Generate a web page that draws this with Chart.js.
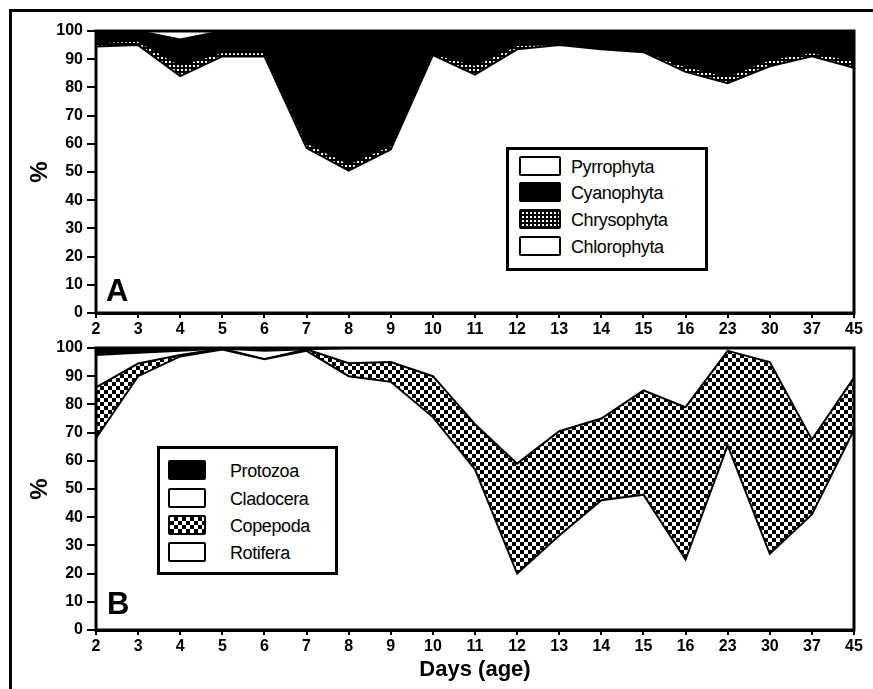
<!DOCTYPE html>
<html>
<head>
<meta charset="utf-8">
<script src="https://cdn.jsdelivr.net/npm/chart.js@4.4.1/dist/chart.umd.min.js"></script>
<style>
    body { margin: 0; background: #fff; width: 873px; height: 689px; overflow: hidden; position: relative; font-family: "Liberation Sans", Arial, sans-serif; }
    .frame { position: absolute; left: 9px; top: 9px; width: 900px; height: 700px; border-left: 3px solid #000; border-top: 3px solid #000; }
    canvas { position: absolute; left: 0; }
    #chA { top: 0; }
    #chB { top: 330px; }
    .legend { position: absolute; border: 3px solid #000; background: #fff; box-sizing: border-box; }
    .item { position: absolute; height: 22px; font-size: 18px; line-height: 22px; letter-spacing: -0.4px; }
    .sw { position: absolute; top: 0; width: 38px; height: 20px; border: 2px solid #000; border-radius: 2px; box-sizing: border-box; }
    .panel { position: absolute; font: bold 31px "Liberation Sans", Arial, sans-serif; }
</style>
</head>
<body>
<div class="frame"></div>
<canvas id="chA" width="873" height="345"></canvas>
<canvas id="chB" width="873" height="359"></canvas>

<div class="legend" style="left:506px; top:147px; width:202px; height:124px;">
    <div class="item" style="top:6px; left:10px;"><div class="sw" style="width:42px; background:#fff;"></div><span style="position:absolute; left:52px; white-space:nowrap;">Pyrrophyta</span></div>
    <div class="item" style="top:32px; left:10px;"><div class="sw" style="width:42px; background:#000;"></div><span style="position:absolute; left:52px; white-space:nowrap;">Cyanophyta</span></div>
    <div class="item" style="top:59px; left:10px;"><div class="sw" id="swChrys" style="width:42px;"></div><span style="position:absolute; left:52px; white-space:nowrap;">Chrysophyta</span></div>
    <div class="item" style="top:86px; left:10px;"><div class="sw" style="width:42px; background:#fff;"></div><span style="position:absolute; left:52px; white-space:nowrap;">Chlorophyta</span></div>
</div>

<div class="legend" style="left:157px; top:446px; width:181px; height:129px;">
    <div class="item" style="top:11px; left:8px;"><div class="sw" style="background:#000;"></div><span style="position:absolute; left:62px; white-space:nowrap;">Protozoa</span></div>
    <div class="item" style="top:39px; left:8px;"><div class="sw" style="background:#fff;"></div><span style="position:absolute; left:62px; white-space:nowrap;">Cladocera</span></div>
    <div class="item" style="top:66px; left:8px;"><div class="sw" id="swCope"></div><span style="position:absolute; left:62px; white-space:nowrap;">Copepoda</span></div>
    <div class="item" style="top:93px; left:8px;"><div class="sw" style="background:#fff;"></div><span style="position:absolute; left:62px; white-space:nowrap;">Rotifera</span></div>
</div>

<div class="panel" style="left:106px; top:273px;">A</div>
<div class="panel" style="left:107px; top:586px;">B</div>

<script>
// x categories (days of age)
const days = ['2', '3', '4', '5', '6', '7', '8', '9', '10', '11', '12', '13', '14', '15', '16', '23', '30', '37', '45'];

// panel A - phytoplankton (%), bottom to top
const chlorophyta = [94.5, 95, 84, 91, 91, 58.5, 50.5, 58, 91.5, 84.5, 93.5, 95, 93.5, 92.5, 85.5, 81.5, 87.5, 91, 87];
const chrysophyta = [1.5, 1.5, 4, 1.5, 1.5, 2, 2.5, 1.5, 0.5, 3.5, 1.5, 0.3, 0.3, 0.3, 2, 2.5, 2.5, 1.5, 2.5];
const cyanophyta = [4, 3.5, 9, 7.5, 7.5, 39.5, 47, 40.5, 8, 12, 5, 4.7, 6.2, 7.2, 12.5, 16, 10, 7.5, 10.5];
const pyrrophyta = [0, 0, 3, 0, 0, 0, 0, 0, 0, 0, 0, 0, 0, 0, 0, 0, 0, 0, 0];

// panel B - zooplankton (%), bottom to top
const rotifera = [68, 90, 97, 99.5, 96, 99, 90, 88, 75.5, 57, 20, 33.5, 46, 48, 25, 65.5, 27, 41, 71];
const copepoda = [18, 4.5, 0.5, 0.3, 0, 0.5, 4.6, 7, 14.5, 16, 39, 37, 29, 37, 54, 33.5, 68, 26.5, 18.5];
const cladocera = [11.5, 3.8, 1.5, 0, 3, 0.1, 5.4, 5, 10, 27, 41, 29.5, 25, 15, 21, 1, 5, 32.5, 10.5];
const protozoa = [2.5, 1.7, 1, 0.2, 1, 0.4, 0, 0, 0, 0, 0, 0, 0, 0, 0, 0, 0, 0, 0];

const yTicks = [0, 10, 20, 30, 40, 50, 60, 70, 80, 90, 100];

function makePattern(size, draw) {
    let c = document.createElement('canvas');
    c.width = size;
    c.height = size;
    let g = c.getContext('2d');
    draw(g);
    return c;
}

// small white dots on black (Chrysophyta)
let dotsCanvas = makePattern(4, function (g) {
    g.fillStyle = '#000';
    g.fillRect(0, 0, 4, 4);
    g.fillStyle = '#fff';
    g.fillRect(1, 1, 2, 2);
});
// checkerboard (Copepoda)
let checkCanvas = makePattern(8, function (g) {
    g.fillStyle = '#000';
    g.fillRect(0, 0, 8, 8);
    g.fillStyle = '#fff';
    g.fillRect(0, 0, 4, 4);
    g.fillRect(4, 4, 4, 4);
});

document.getElementById('swChrys').style.background = 'url(' + dotsCanvas.toDataURL() + ')';
document.getElementById('swCope').style.background = 'url(' + checkCanvas.toDataURL() + ')';

const tmp = document.createElement('canvas').getContext('2d');
const dotsPattern = tmp.createPattern(dotsCanvas, 'repeat');
const checkPattern = tmp.createPattern(checkCanvas, 'repeat');

// box round the plot area, drawn over the fills
const framePlugin = {
    id: 'frame',
    afterDatasetsDraw(chart) {
        let a = chart.chartArea;
        let ctx = chart.ctx;
        ctx.save();
        ctx.strokeStyle = '#000';
        ctx.lineWidth = 3;
        ctx.strokeRect(a.left, a.top, a.right - a.left, a.bottom - a.top);
        ctx.restore();
    }
};

function layer(label, values, fill, color) {
    return {
        label: label,
        data: values,
        fill: fill,
        backgroundColor: color,
        borderColor: '#000',
        borderWidth: 2,
        pointRadius: 0,
        tension: 0
    };
}

function makeOptions(topPad, xHeight, withTitle) {
    return {
        responsive: false,
        animation: false,
        layout: { padding: { left: 0, top: topPad, right: 19, bottom: 0 } },
        plugins: { legend: { display: false }, tooltip: { enabled: false } },
        scales: {
            x: {
                type: 'category',
                offset: false,
                afterFit: function (s) { s.height = xHeight; },
                border: { display: true, color: '#000', width: 3 },
                grid: { offset: false, drawOnChartArea: false, drawTicks: true, tickLength: 5, color: '#000', lineWidth: 2 },
                ticks: {
                    color: '#000', padding: 2, maxRotation: 0, autoSkip: false,
                    font: { family: '"Liberation Sans Narrow", "Liberation Sans", Arial', size: 16, weight: 'bold' }
                },
                title: {
                    display: withTitle, text: 'Days (age)', color: '#000',
                    font: { family: '"Liberation Sans", Arial', size: 22, weight: 'bold' },
                    padding: { top: 0, bottom: 6 }
                }
            },
            y: {
                stacked: true,
                min: 0,
                max: 100,
                afterFit: function (s) { s.width = 96; },
                afterBuildTicks: function (s) { s.ticks = yTicks.map(v => ({ value: v })); },
                border: { display: true, color: '#000', width: 3 },
                grid: { drawOnChartArea: false, drawTicks: true, tickLength: 9, color: '#000', lineWidth: 2 },
                ticks: {
                    color: '#000', padding: 4,
                    font: { family: '"Liberation Sans", Arial', size: 16, weight: 'bold' }
                },
                title: {
                    display: true, text: '%', color: '#000',
                    font: { family: '"Liberation Sans", Arial', size: 24, weight: 'bold' },
                    padding: { top: 26, bottom: 0 }
                }
            }
        }
    };
}

new Chart(document.getElementById('chA'), {
    type: 'line',
    data: {
        labels: days,
        datasets: [
            layer('Chlorophyta', chlorophyta, 'origin', '#fff'),
            layer('Chrysophyta', chrysophyta, '-1', dotsPattern),
            layer('Cyanophyta', cyanophyta, '-1', '#000'),
            layer('Pyrrophyta', pyrrophyta, '-1', '#fff')
        ]
    },
    options: makeOptions(31, 32, false),
    plugins: [framePlugin]
});

new Chart(document.getElementById('chB'), {
    type: 'line',
    data: {
        labels: days,
        datasets: [
            layer('Rotifera', rotifera, 'origin', '#fff'),
            layer('Copepoda', copepoda, '-1', checkPattern),
            layer('Cladocera', cladocera, '-1', '#fff'),
            layer('Protozoa', protozoa, '-1', '#000')
        ]
    },
    options: makeOptions(18, 59, true),
    plugins: [framePlugin]
});
</script>
</body>
</html>
